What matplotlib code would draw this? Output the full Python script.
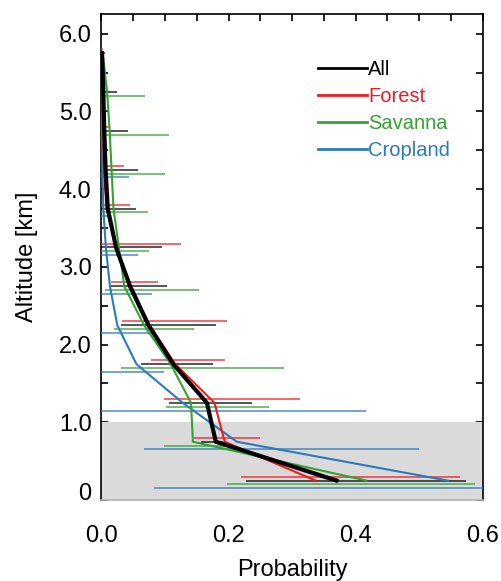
import matplotlib
matplotlib.use('Agg')
import matplotlib.pyplot as plt
from matplotlib.transforms import ScaledTranslation

plt.rcParams['font.family'] = ['Liberation Sans', 'DejaVu Sans']

# altitude bin centres (km)
alt = [0.25, 0.75, 1.25, 1.75, 2.25, 2.75, 3.25, 3.75, 4.25, 4.75, 5.25, 5.75]

all_mean = [0.370, 0.180, 0.166, 0.113, 0.074, 0.045, 0.023, 0.010, 0.0066, 0.0045, 0.003, 0.001]
all_lo = [0.228, 0.156, 0.106, 0.062, 0.031, 0.015, 0.0, 0.0, 0.0, 0.0, 0.0, 0.0]
all_hi = [0.574, 0.192, 0.237, 0.176, 0.180, 0.1025, 0.095, 0.055, 0.058, 0.042, 0.025, 0.005]

forest_mean = [0.337, 0.194, 0.178, 0.116, 0.076, 0.047, 0.023, 0.008, 0.004, 0.003, 0.002, 0.001]
forest_lo = [0.220, 0.145, 0.099, 0.078, 0.032, 0.015, 0.0, 0.0, 0.0, 0.0, 0.0, 0.0]
forest_hi = [0.565, 0.249, 0.312, 0.194, 0.198, 0.089, 0.126, 0.045, 0.035, 0.013, 0.004, 0.003]

savanna_mean = [0.417, 0.144, 0.141, 0.109, 0.067, 0.036, 0.0275, 0.019, 0.016, 0.013, 0.009, 0.002]
savanna_lo = [0.197, 0.099, 0.101, 0.031, 0.020, 0.0055, 0.0, 0.0, 0.0, 0.0, 0.0, 0.0]
savanna_hi = [0.588, 0.199, 0.264, 0.287, 0.145, 0.153, 0.075, 0.074, 0.100, 0.106, 0.069, 0.004]

crop_mean = [0.545, 0.213, 0.128, 0.055, 0.025, 0.0134, 0.007, 0.003, 0.0015, 0.001, 0.001, 0.001]
crop_lo = [0.083, 0.067, 0.0, 0.0, 0.0, 0.0, 0.0, 0.0, 0.0, 0.0, 0.0, 0.0]
crop_hi = [0.62, 0.499, 0.416, 0.099, 0.083, 0.080, 0.058, 0.015, 0.043, 0.005, 0.003, 0.002]

# bar offsets so the error bars don't sit on top of each other
series = [
    ('All', all_mean, all_lo, all_hi, 'black', 3.0, 0.0),
    ('Forest', forest_mean, forest_lo, forest_hi, '#ee1c25', 1.5, 0.05),
    ('Savanna', savanna_mean, savanna_lo, savanna_hi, '#33a333', 1.5, -0.05),
    ('Cropland', crop_mean, crop_lo, crop_hi, '#2b7bba', 1.5, -0.10),
]

xticks = [0.0, 0.2, 0.4, 0.6]
xticklabels = ['0.0', '0.2', '0.4', '0.6']
yticks = [0, 1, 2, 3, 4, 5, 6]
yticklabels = ['0', '1.0', '2.0', '3.0', '4.0', '5.0', '6.0']

fig = plt.figure(figsize=(5.02, 5.81), dpi=100)
ax = fig.add_axes([0.202, 0.1394, 0.7596, 0.836])

# boundary layer shading, covers ticks but not the curves
ax.axhspan(0, 1.0, color='#dadada', zorder=2, lw=0)

for name, m, lo, hi, c, lw, off in series:
    ax.hlines([a + off for a in alt], lo, hi, colors=c, lw=1.1, alpha=0.85, zorder=3)
for name, m, lo, hi, c, lw, off in series[::-1]:
    ax.plot(m, alt, color=c, lw=lw, label=name, zorder=4 if name == 'All' else 3.5)

ax.set_xlim(0, 0.6)
ax.set_ylim(0, 6.25)
ax.set_xticks(xticks)
ax.set_xticklabels(xticklabels)
ax.set_yticks(yticks)
ax.set_yticklabels(yticklabels)
ax.set_xticks([i * 0.05 for i in range(13)], minor=True)
ax.set_yticks([i * 0.5 for i in range(13)], minor=True)
ax.tick_params(which='both', direction='in', top=True, right=True, length=5, width=1.2)
ax.tick_params(axis='x', which='both', bottom=False, pad=18, labelsize=17)
ax.tick_params(axis='y', pad=7, labelsize=17)
for s in ax.spines.values():
    s.set_linewidth(1.2)
ax.spines['bottom'].set_color('#b0b0b0')

# the "0" label sits a bit higher than the axis bottom
lab0 = ax.yaxis.get_major_ticks()[0].label1
lab0.set_transform(lab0.get_transform() + ScaledTranslation(0, 9 / 100, fig.dpi_scale_trans))

ax.set_xlabel('Probability', fontsize=17)
ax.set_ylabel('Altitude [km]', fontsize=17)
ax.xaxis.set_label_coords(0.5, -0.122)
ax.yaxis.set_label_coords(-0.165, 0.5)

handles, labels = ax.get_legend_handles_labels()
leg = ax.legend(handles[::-1], labels[::-1], loc='upper left', bbox_to_anchor=(0.567, 0.906),
                frameon=False, fontsize=14.5, handlelength=2.45, handletextpad=0.05,
                labelspacing=0.4, borderpad=0, borderaxespad=0, labelcolor='linecolor')
for ln in leg.get_lines():
    ln.set_linewidth(2.0)

fig.savefig('out.png', dpi=100)
